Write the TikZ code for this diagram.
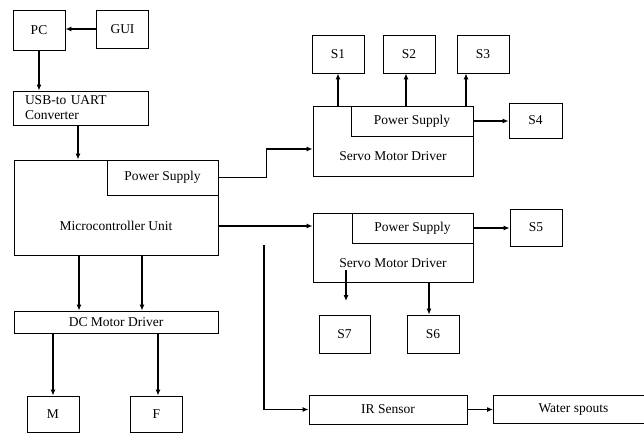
\documentclass[tikz,border=0pt]{standalone}
\usepackage{fontspec}
\setmainfont{Liberation Serif}
\usetikzlibrary{positioning, arrows.meta}

\begin{document}
\begin{tikzpicture}[x=1pt, y=-1pt, >={Latex[length=6pt, width=5pt]},
    blk/.style={draw, rectangle, line width=0.9pt, inner sep=0pt, font=\fontsize{13.5}{15}\selectfont},
    sbox/.style={blk, minimum width=52pt, minimum height=37pt},
    lbl/.style={font=\fontsize{13.5}{15}\selectfont, inner sep=0pt},
    wire/.style={line width=1.1pt}]
    \useasboundingbox (0,0) rectangle (644,434);

    % Nodes
    \node[sbox, minimum height=40pt] (pc) at (39,30) {PC};
    \node[sbox, minimum height=38pt] (gui) at (122.5,29) {GUI};
    \node[blk, minimum width=135pt, minimum height=34pt, text width=111pt, inner xsep=12pt, align=left] (usb) at (80.5,108) {USB-to UART\\Converter};
    \node[blk, minimum width=204pt, minimum height=95pt] (mcu) at (116,207.5) {};
    \node[blk, minimum width=111pt, minimum height=35pt, anchor=north east] (ps0) at (mcu.north east) {Power Supply};
    \node[lbl] (mcutext) at ([yshift=-18.5pt]mcu.center) {Microcontroller Unit};
    \node[blk, minimum width=204pt, minimum height=22pt] (dc) at (116,322) {DC Motor Driver};
    \node[sbox, minimum height=36pt] (m) at (53,414) {M};
    \node[sbox, minimum height=36pt] (f) at (156.5,414) {F};

    \node[blk, minimum width=160pt, minimum height=70pt] (sv1) at (393,141) {};
    \node[blk, minimum width=122pt, minimum height=30pt, anchor=north east] (ps1) at (sv1.north east) {Power Supply};
    \node[lbl] (sv1text) at ([yshift=-15pt]sv1.center) {Servo Motor Driver};
    \node[sbox, minimum height=38pt] (s1) at (338,54) {S1};
    \node[sbox, minimum height=38pt] (s2) at (409,54) {S2};
    \node[sbox, minimum height=38pt] (s3) at (483,54) {S3};
    \node[sbox, minimum width=53pt, minimum height=35pt] (s4) at (535.5,120.5) {S4};

    \node[blk, minimum width=160pt, minimum height=69pt] (sv2) at (393,247.5) {};
    \node[blk, minimum width=121pt, minimum height=30pt, anchor=north east] (ps2) at (sv2.north east) {Power Supply};
    \node[lbl] (sv2text) at ([yshift=-15.5pt]sv2.center) {Servo Motor Driver};
    \node[sbox] (s5) at (536,227.5) {S5};
    \node[sbox, minimum width=51pt, minimum height=38pt] (s7) at (344.5,334) {S7};
    \node[sbox, minimum height=38pt] (s6) at (433,334) {S6};

    \node[blk, minimum width=158pt, minimum height=29pt] (ir) at (388,409.5) {IR Sensor};
    \node[blk, minimum width=160pt, minimum height=28pt, anchor=west] (spout) at (493,409.5) {Water spouts};
    \coordinate (s7tap) at (346,270);
    \coordinate (s7end) at (346,301);
    \coordinate (irtap) at (264,245);

    % Connections
    \draw[wire, ->] (gui.west) -- (gui.west -| pc.east);
    \draw[wire, ->] (pc.south) -- (pc.south |- usb.north);
    \draw[wire, ->] ([xshift=-2.5pt]usb.south) -- ([xshift=-2.5pt]usb.south |- mcu.north);
    \draw[wire, ->] ([xshift=-37pt]mcu.south) -- ([xshift=-37pt]dc.north);
    \draw[wire, ->] ([xshift=26pt]mcu.south) -- ([xshift=26pt]dc.north);
    \draw[wire, ->] (m |- dc.south) -- (m.north);
    \draw[wire, ->] ([xshift=1.5pt]f |- dc.south) -- ([xshift=1.5pt]f.north);

    \draw[wire, ->] (ps0.east) -- ++(48,0) |- ([yshift=-8pt]sv1.west);
    \draw[wire, ->] (mcutext -| mcu.east) -- (mcutext -| sv2.west);
    \draw[wire, ->] (irtap) |- (ir.west);
    \draw[wire, ->] (ir.east) -- (spout.west);

    \draw[wire, ->] (s1 |- sv1.north) -- (s1.south);
    \draw[wire, ->] ([xshift=-3pt]s2 |- sv1.north) -- ([xshift=-3pt]s2.south);
    \draw[wire, ->] ([xshift=-17pt]s3 |- sv1.north) -- ([xshift=-17pt]s3.south);
    \draw[wire, ->] (ps1.east) -- (ps1.east -| s4.west);
    \draw[wire, ->] (ps2.east) -- (ps2.east -| s5.west);
    \draw[wire, ->] (s7tap) -- (s7end);
    \draw[wire, ->] ([xshift=-4pt]s6 |- sv2.south) -- ([xshift=-4pt]s6.north);
\end{tikzpicture}
\end{document}
